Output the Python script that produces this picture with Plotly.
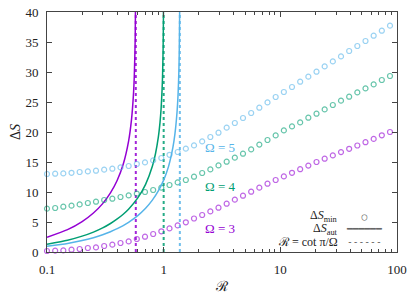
import math
import plotly.graph_objects as go

# ---- data ----
omegas = [3, 4, 5]
colors = ["#9400d3", "#009e73", "#56b4e9"]
label_names = ["Ω = 3", "Ω = 4", "Ω = 5"]
label_y = [4.0, 11.0, 17.4]
label_x = [3.05, 3.05, 3.05]

R_min = [0.1, 0.1175, 0.138, 0.1622, 0.1905, 0.2239, 0.263, 0.309, 0.3631, 0.4266,
         0.5012, 0.5888, 0.6918, 0.8128, 0.955, 1.122, 1.318, 1.549, 1.820, 2.138,
         2.512, 2.951, 3.467, 4.074, 4.786, 5.623, 6.607, 7.762, 9.120, 10.72,
         12.59, 14.79, 17.38, 20.42, 23.99, 28.18, 33.11, 38.90, 45.71, 53.70,
         63.10, 74.13, 87.10]

S_min_3 = [0.17, 0.22, 0.27, 0.38, 0.50, 0.67, 0.77, 1.00, 1.22, 1.50,
           1.77, 2.17, 2.55, 3.00, 3.45, 3.93, 4.43, 4.95, 5.58, 6.17,
           6.77, 7.38, 8.05, 8.72, 9.38, 10.05, 10.72, 11.38, 12.00, 12.60,
           13.20, 13.80, 14.40, 15.00, 15.55, 16.10, 16.65, 17.20, 17.75, 18.30,
           18.85, 19.45, 20.00]
S_min_4 = [7.22, 7.33, 7.55, 7.72, 7.93, 8.17, 8.38, 8.67, 8.88, 9.17,
           9.43, 9.72, 10.00, 10.33, 10.72, 11.17, 11.60, 12.00, 12.55, 13.17,
           13.77, 14.43, 15.05, 15.72, 16.38, 17.10, 17.90, 18.67, 19.43, 20.27,
           20.93, 21.60, 22.38, 23.05, 23.77, 24.50, 25.22, 25.88, 26.60, 27.27,
           27.93, 28.67, 29.33]
S_min_5 = [13.00, 13.05, 13.10, 13.20, 13.33, 13.43, 13.55, 13.72, 13.88, 14.10,
           14.33, 14.67, 14.93, 15.27, 15.67, 16.20, 16.67, 17.22, 17.77, 18.43,
           19.17, 19.88, 20.72, 21.50, 22.33, 23.17, 24.05, 24.93, 25.83, 26.67,
           27.50, 28.38, 29.22, 30.05, 30.93, 31.77, 32.60, 33.50, 34.33, 35.17,
           36.05, 36.88, 37.72]

R_aut_3 = [0.1, 0.15, 0.2, 0.25, 0.3, 0.35, 0.4, 0.45, 0.5, 0.53, 0.55, 0.56, 0.57, 0.575]
S_aut_3 = [2.45, 3.72, 5.06, 6.49, 8.06, 9.84, 11.95, 14.61, 18.44, 22.06, 26.06, 29.3, 35.4, 43.4]

R_aut_4 = [0.1, 0.15, 0.2, 0.25, 0.3, 0.35, 0.4, 0.45, 0.5, 0.6, 0.7, 0.8, 0.85, 0.9,
           0.93, 0.95, 0.97, 0.98, 0.99, 0.995, 0.998]
S_aut_4 = [1.30, 1.96, 2.64, 3.32, 4.02, 4.75, 5.51, 6.30, 7.14, 9.01, 11.27, 14.28, 16.33, 19.14,
           21.56, 23.81, 27.2, 29.87, 34.4, 38.9, 44.9]

R_aut_5 = [0.1, 0.15, 0.2, 0.25, 0.3, 0.35, 0.4, 0.45, 0.5, 0.6, 0.7, 0.8, 0.9, 1.0,
           1.1, 1.2, 1.25, 1.3, 1.33, 1.35, 1.36, 1.37, 1.374]
S_aut_5 = [0.95, 1.42, 1.90, 2.39, 2.88, 3.38, 3.89, 4.41, 4.95, 6.07, 7.29, 8.64, 10.17, 11.98,
           14.23, 17.43, 19.72, 23.16, 26.46, 30.1, 33.3, 39.4, 45.8]

R_cot = [0.577, 1.0, 1.376]
S_range = [0, 40]

x_ticks = [0.1, 1, 10, 100]
x_ticklabels = ["0.1", "1", "10", "100"]
y_ticks = [0, 5, 10, 15, 20, 25, 30, 35, 40]

legend_texts = ["Δ<i>S</i><sub>min</sub>", "Δ<i>S</i><sub>aut</sub>", "ℛ = cot π/Ω"]
legend_keys = ["○", "━━━━━━", "------"]

FONT = "Liberation Serif"
AXIS_COLOR = "#444444"
LEG_COLOR = "#666666"

fig = go.Figure()

S_min = [S_min_3, S_min_4, S_min_5]
R_aut = [R_aut_3, R_aut_4, R_aut_5]
S_aut = [S_aut_3, S_aut_4, S_aut_5]

for i, om in enumerate(omegas):
    fig.add_trace(go.Scatter(
        x=R_min, y=S_min[i], mode="markers", showlegend=False,
        marker=dict(symbol="circle-open", size=5, color=colors[i], opacity=0.6,
                    line=dict(width=1.2, color=colors[i])),
        cliponaxis=False))
    fig.add_trace(go.Scatter(
        x=R_aut[i], y=S_aut[i], mode="lines", showlegend=False,
        line=dict(color=colors[i], width=1.5, shape="spline", smoothing=0.6)))
    fig.add_trace(go.Scatter(
        x=[R_cot[i], R_cot[i]], y=S_range, mode="lines", showlegend=False,
        line=dict(color=colors[i], width=2, dash="dot"), opacity=0.85))
    fig.add_annotation(x=math.log10(label_x[i]), y=label_y[i], xref="x", yref="y",
                       text=label_names[i], showarrow=False,
                       font=dict(family=FONT, size=13, color=colors[i]))

# legend: right-aligned entry texts, glyph keys in one centred column
leg_y = [0.148, 0.097, 0.042]
for t, yy in zip(legend_texts, leg_y):
    fig.add_annotation(x=0.837, y=yy, xref="paper", yref="paper", xanchor="right",
                       yanchor="middle", text=t, showarrow=False,
                       font=dict(family=FONT, size=12, color="#222222"))
fig.add_annotation(x=0.906, y=0.096, xref="paper", yref="paper", xanchor="center",
                   yanchor="middle", align="center", text="<br>".join(legend_keys),
                   showarrow=False,
                   font=dict(family="DejaVu Sans Mono", size=9.6, color=LEG_COLOR))

# the page adds an 8px body margin, so the figure is 8px smaller than the window
fig.update_layout(
    width=412, height=286,
    margin=dict(l=39, r=23, t=4, b=42),
    paper_bgcolor="white", plot_bgcolor="white",
    font=dict(family=FONT, size=13, color="#222222"),
    showlegend=False,
)
fig.update_xaxes(
    type="log", range=[-1, 2], tickvals=x_ticks, ticktext=x_ticklabels,
    automargin=False, ticklabelstandoff=5, ticklabeloverflow="allow",
    ticks="inside", ticklen=5, tickcolor=AXIS_COLOR, showgrid=False, zeroline=False,
    showline=True, linecolor=AXIS_COLOR, linewidth=1, mirror="ticks",
    minor=dict(ticks="inside", ticklen=3, tickcolor=AXIS_COLOR, dtick="D1", showgrid=False),
    title=dict(text="ℛ", font=dict(size=14)),
    tickfont=dict(size=13),
)
fig.update_yaxes(
    range=[0, 40], tickvals=y_ticks, ticks="inside", ticklen=5, tickcolor=AXIS_COLOR,
    automargin=False, ticklabelstandoff=5, ticklabeloverflow="allow",
    showgrid=False, zeroline=False, showline=True, linecolor=AXIS_COLOR, linewidth=1,
    mirror="ticks", title=dict(text="Δ<i>S</i>", font=dict(size=14), standoff=10),
    tickfont=dict(size=13),
)

fig.write_html("out.html")
